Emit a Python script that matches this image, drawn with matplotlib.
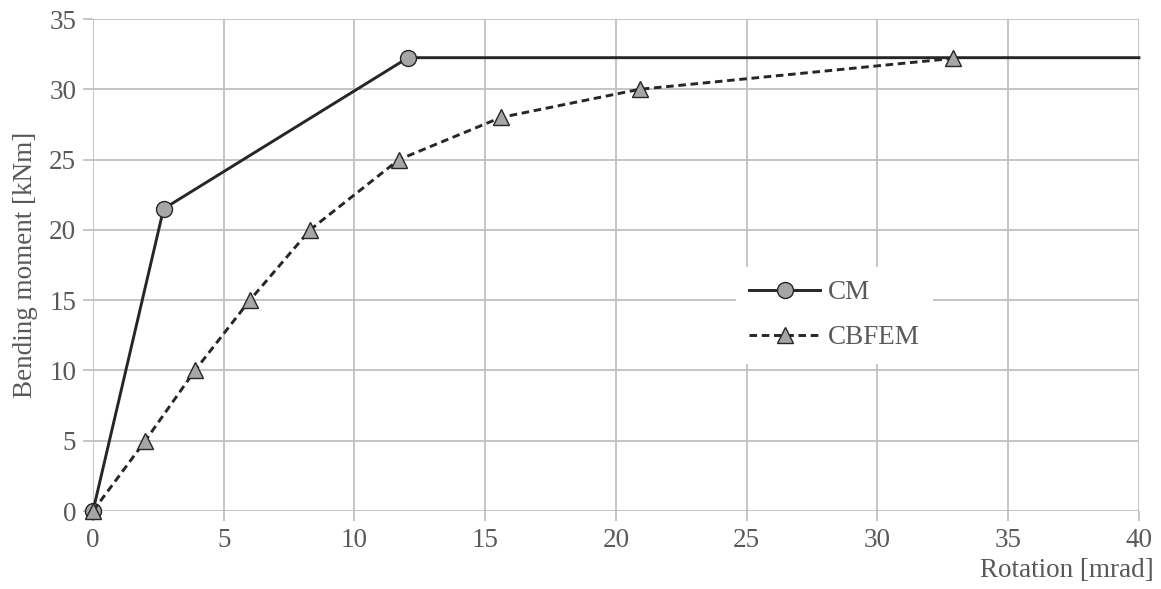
import matplotlib
matplotlib.use('Agg')
import matplotlib.pyplot as plt

# data
cm_rot = [0, 2.7, 12.05, 40]
cm_moment = [0, 21.5, 32.25, 32.25]
cbfem_rot = [0, 2.0, 3.9, 6.0, 8.3, 11.7, 15.6, 20.9, 32.9]
cbfem_moment = [0, 5, 10, 15, 20, 25, 28, 30, 32.2]
x_ticks = [0, 5, 10, 15, 20, 25, 30, 35, 40]
y_ticks = [0, 5, 10, 15, 20, 25, 30, 35]

plt.rcParams['font.family'] = ['Liberation Serif', 'DejaVu Serif']
text_color = '#595959'
grid_color = '#c0c0c0'
fs = 19.5

fig = plt.figure(figsize=(11.61, 5.89), dpi=100)
ax = fig.add_axes([0.0801, 0.1324, 0.9009, 0.8353])

# CM curve, no marker on the last point at the right edge
ax.plot(cm_rot, cm_moment, '-', color='#262626', lw=2.1,
        marker='o', markersize=11.5, markerfacecolor='#a6a6a6',
        markeredgecolor='#262626', markeredgewidth=1,
        markevery=[0, 1, 2], label='CM', zorder=3, clip_on=False)
# CBFEM curve
ax.plot(cbfem_rot, cbfem_moment, '--', color='#262626', lw=2.1,
        dashes=(2.6, 1.6),
        marker='^', markersize=11.5, markerfacecolor='#a6a6a6',
        markeredgecolor='#262626', markeredgewidth=1,
        label='CBFEM', zorder=3, clip_on=False)

ax.set_xlim(0, 40)
ax.set_ylim(0, 35)
ax.set_xticks(x_ticks)
ax.set_yticks(y_ticks)
ax.grid(True, color=grid_color, lw=1.3)
ax.set_axisbelow(True)
for s in ax.spines.values():
    s.set_visible(False)
ax.tick_params(length=7, width=1.3, color=grid_color, labelcolor=text_color,
               labelsize=fs, pad=5)

ax.set_ylabel('Bending moment [kNm]', fontsize=fs, color=text_color, labelpad=8)
ax.set_xlabel('Rotation [mrad]', fontsize=fs, color=text_color, loc='right', labelpad=3)
# label sticks out a little past the last tick, as in the original
ax.xaxis.set_label_coords(1.014, -0.095)

leg = ax.legend(loc='center', bbox_to_anchor=(0.709, 0.398), frameon=True,
                fontsize=fs, handlelength=2.6, labelspacing=0.75,
                borderpad=0.5, handletextpad=0.3)
leg.get_frame().set_edgecolor('none')
leg.get_frame().set_facecolor('white')
leg.get_frame().set_alpha(1)
leg.get_frame().set_boxstyle('square', pad=0)
for t in leg.get_texts():
    t.set_color(text_color)

fig.savefig('out.png', dpi=100)
